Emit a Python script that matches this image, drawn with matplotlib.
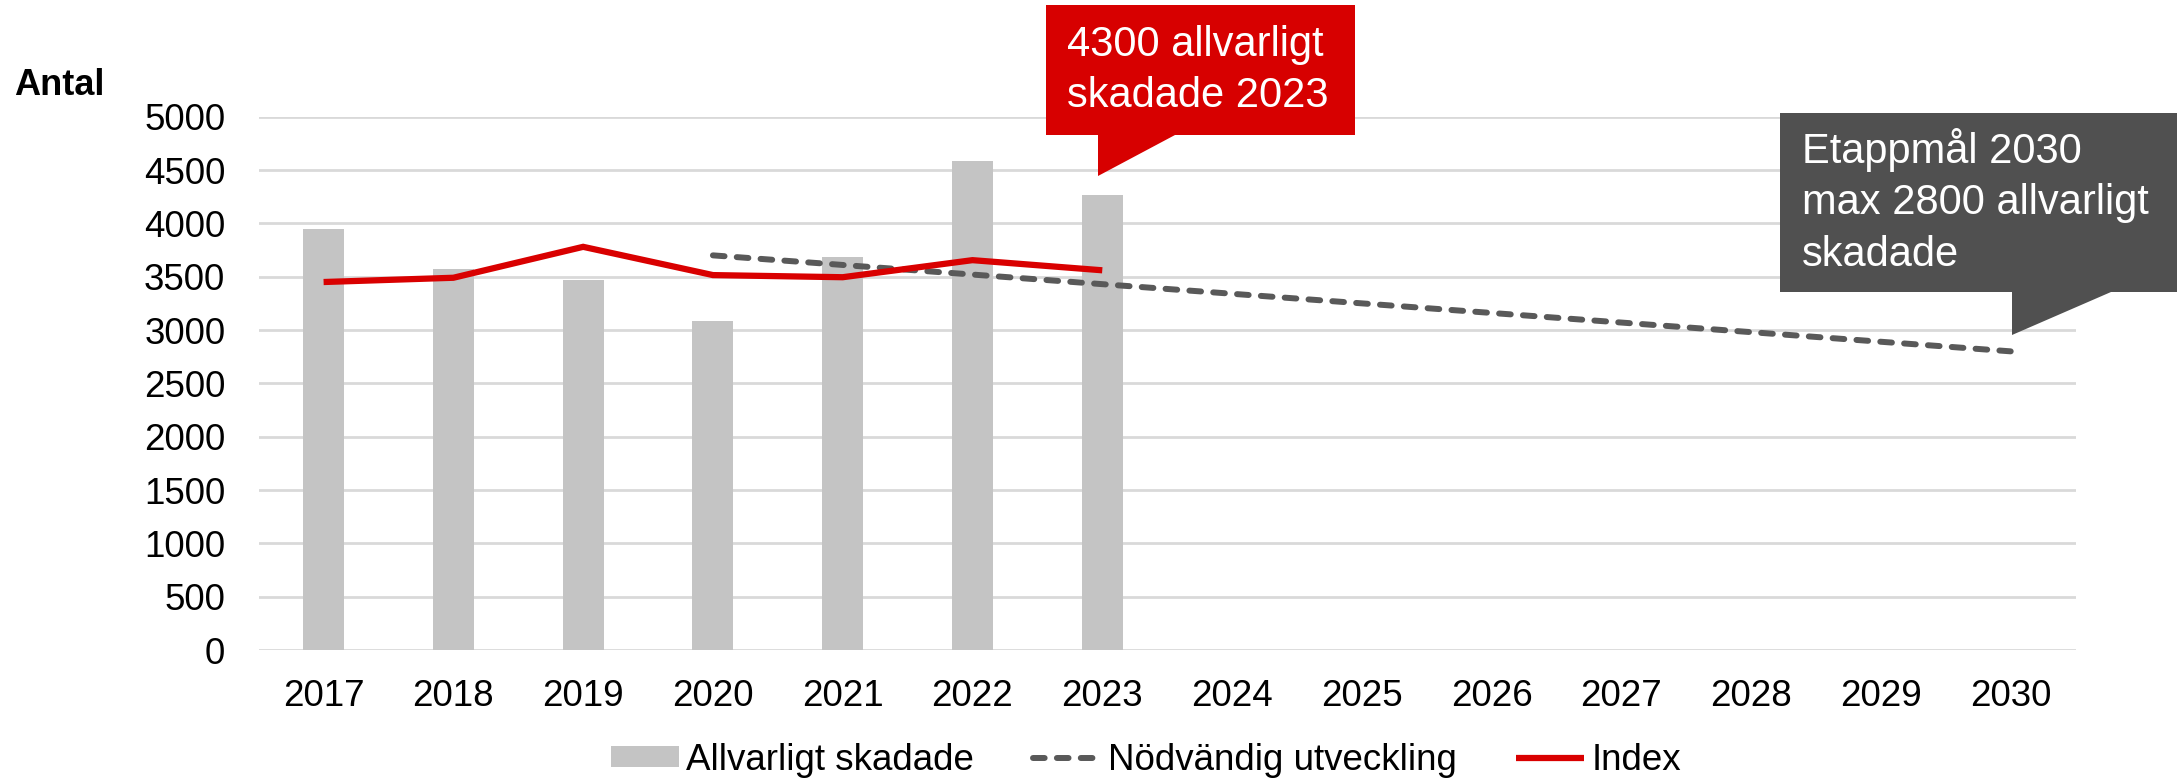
import matplotlib
matplotlib.use("Agg")
import matplotlib.pyplot as plt
from matplotlib.patches import Polygon

plt.rcParams['font.family'] = ['Liberation Sans', 'DejaVu Sans']

years = ['2017', '2018', '2019', '2020', '2021', '2022', '2023',
         '2024', '2025', '2026', '2027', '2028', '2029', '2030']
allvarligt = [3950, 3575, 3470, 3080, 3685, 4580, 4270]
index_vals = [3450, 3490, 3780, 3515, 3495, 3655, 3560]
nodv_years = ['2020', '2021', '2022', '2023', '2024', '2025', '2026',
              '2027', '2028', '2029', '2030']
nodv_vals = [3700, 3610, 3520, 3430, 3340, 3250, 3160, 3070, 2980, 2890, 2800]
yticks = [0, 500, 1000, 1500, 2000, 2500, 3000, 3500, 4000, 4500, 5000]

W, H = 2177, 782
fig = plt.figure(figsize=(W / 100, H / 100), dpi=100)

def fx(px):
    return px / W

def fy(py):
    return 1 - py / H

ax = fig.add_axes([fx(258.7), fy(650), fx(2075.6) - fx(258.7), fy(116.7) - fy(650)])

xpos = {y: i for i, y in enumerate(years)}
xb = [xpos[y] for y in years[:len(allvarligt)]]
h_bar = ax.bar(xb, allvarligt, width=0.316, color='#C4C4C4', zorder=2,
               label='Allvarligt skadade')
nx = [xpos[y] for y in nodv_years]
h_dash, = ax.plot(nx, nodv_vals, color='#595959', lw=4.3, dashes=(1.95, 2.05),
                  dash_capstyle='round', zorder=3, label='Nödvändig utveckling')
h_idx, = ax.plot(xb, index_vals, color='#D90000', lw=4.5, zorder=4,
                 solid_capstyle='butt', solid_joinstyle='miter', label='Index')

ax.set_xlim(-0.5, len(years) - 0.5)
ax.set_ylim(0, 5000)
ax.set_yticks(yticks)
ax.set_yticklabels([str(v) for v in yticks])
ax.set_xticks(range(len(years)))
ax.set_xticklabels(years)
ax.tick_params(axis='both', length=0, labelsize=26.5, colors='black')
ax.tick_params(axis='y', pad=24)
ax.tick_params(axis='x', pad=21)
ax.grid(axis='y', color='#D9D9D9', lw=2, zorder=0)
ax.set_axisbelow(True)
for s in ax.spines.values():
    s.set_visible(False)

fig.text(fx(14), fy(95), 'Antal', fontsize=26, fontweight='bold',
         ha='left', va='baseline')

# Callout: red
red_poly = [(1046, 5), (1355, 5), (1355, 135), (1175, 135), (1098, 176),
            (1098, 135), (1046, 135)]
fig.patches.append(Polygon([(fx(a), fy(b)) for a, b in red_poly], closed=True,
                           transform=fig.transFigure, facecolor='#D70000',
                           edgecolor='none', zorder=5))
for txt, base in [('4300 allvarligt', 56), ('skadade 2023', 107)]:
    fig.text(fx(1067), fy(base), txt, color='white', fontsize=30,
             ha='left', va='baseline', zorder=6)

# Callout: gray
gray_poly = [(1780, 113), (2190, 113), (2190, 292), (2111, 292), (2012, 335),
             (2012, 292), (1780, 292)]
fig.patches.append(Polygon([(fx(a), fy(b)) for a, b in gray_poly], closed=True,
                           transform=fig.transFigure, facecolor='#505050',
                           edgecolor='none', zorder=5))
for txt, base in [('Etappmål 2030', 163), ('max 2800 allvarligt', 214),
                  ('skadade', 266)]:
    fig.text(fx(1802), fy(base), txt, color='white', fontsize=30,
             ha='left', va='baseline', zorder=6)

leg = fig.legend([h_bar, h_dash, h_idx],
                 ['Allvarligt skadade', 'Nödvändig utveckling', 'Index'],
                 loc='center', ncol=3,
                 bbox_to_anchor=(fx(1146), fy(760)), frameon=False,
                 fontsize=26.5, handlelength=1.85, handleheight=0.52,
                 handletextpad=0.2, columnspacing=1.6, borderaxespad=0,
                 borderpad=0)

fig.savefig('out.png', dpi=100)
